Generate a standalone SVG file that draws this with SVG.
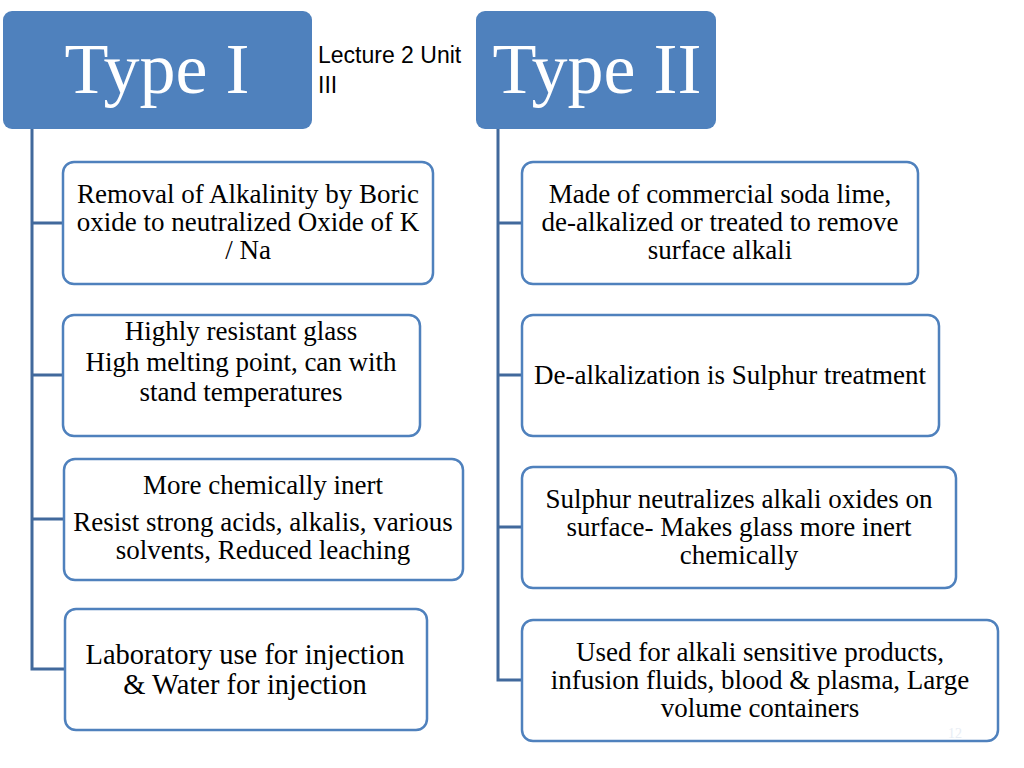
<svg xmlns="http://www.w3.org/2000/svg" width="1024" height="768" viewBox="0 0 1024 768">
<style>
.hdr{fill:#4f81bd;}
.htxt{font-family:"Liberation Serif","Times New Roman",serif;font-size:72px;fill:#ffffff;text-anchor:middle;}
.box{fill:#ffffff;stroke:#4f81bd;stroke-width:2.5;}
.t{font-family:"Liberation Serif","Times New Roman",serif;font-size:27px;fill:#000000;text-anchor:middle;}
.big{font-size:28.5px;}
.conn{fill:none;stroke:#41699c;stroke-width:3;}
.note{font-family:"Liberation Sans",Arial,sans-serif;font-size:23px;fill:#000000;}
</style>
<rect width="1024" height="768" fill="#ffffff"/>
<g id="connectors">
<path class="conn" d="M32 129 V669 H65 M32 223 H63 M32 375 H63 M32 519 H64"/>
<path class="conn" d="M498 129 V680 H522 M498 223 H522 M498 375 H522 M498 527 H522"/>
</g>
<g id="type1">
<rect class="hdr" x="3" y="11" width="309" height="118" rx="9"/>
<text class="htxt" x="157" y="93">Type I</text>
</g>
<g id="type2">
<rect class="hdr" x="476" y="11" width="240" height="118" rx="9"/>
<text class="htxt" x="597" y="93">Type II</text>
</g>
<g id="lecture">
<text class="note" x="318" y="63">Lecture 2 Unit</text>
<text class="note" x="318" y="93">III</text>
</g>
<g id="l1">
<rect class="box" x="63" y="162" width="370" height="122" rx="11"/>
<text class="t" x="248" y="203">Removal of Alkalinity by Boric</text>
<text class="t" x="248" y="231">oxide to neutralized Oxide of K</text>
<text class="t" x="248" y="259">/ Na</text>
</g>
<g id="l2">
<rect class="box" x="63" y="315" width="357" height="121" rx="11"/>
<text class="t" x="241" y="340">Highly resistant glass</text>
<text class="t" x="241" y="371">High melting point, can with</text>
<text class="t" x="241" y="401">stand temperatures</text>
</g>
<g id="l3">
<rect class="box" x="64" y="459" width="399" height="121" rx="11"/>
<text class="t" x="263" y="494">More chemically inert</text>
<text class="t" x="263" y="531">Resist strong acids, alkalis, various</text>
<text class="t" x="263" y="559">solvents, Reduced leaching</text>
</g>
<g id="l4">
<rect class="box" x="65" y="609" width="362" height="121" rx="11"/>
<text class="t big" x="245" y="664">Laboratory use for injection</text>
<text class="t big" x="245" y="694">&amp; Water for injection</text>
</g>
<g id="r1">
<rect class="box" x="522" y="162" width="396" height="122" rx="11"/>
<text class="t" x="720" y="203">Made of commercial soda lime,</text>
<text class="t" x="720" y="231">de-alkalized or treated to remove</text>
<text class="t" x="720" y="259">surface alkali</text>
</g>
<g id="r2">
<rect class="box" x="522" y="315" width="417" height="121" rx="11"/>
<text class="t" x="730" y="384">De-alkalization is Sulphur treatment</text>
</g>
<g id="r3">
<rect class="box" x="522" y="467" width="434" height="121" rx="11"/>
<text class="t" x="739" y="508">Sulphur neutralizes alkali oxides on</text>
<text class="t" x="739" y="536">surface- Makes glass more inert</text>
<text class="t" x="739" y="564">chemically</text>
</g>
<g id="r4">
<rect class="box" x="522" y="620" width="476" height="121" rx="11"/>
<text class="t" x="760" y="661">Used for alkali sensitive products,</text>
<text class="t" x="760" y="689">infusion fluids, blood &amp; plasma, Large</text>
<text class="t" x="760" y="717">volume containers</text>
</g>
<text x="955" y="738" font-family="Liberation Serif, serif" font-size="14" fill="#e8edf4" text-anchor="middle">12</text>
</svg>
